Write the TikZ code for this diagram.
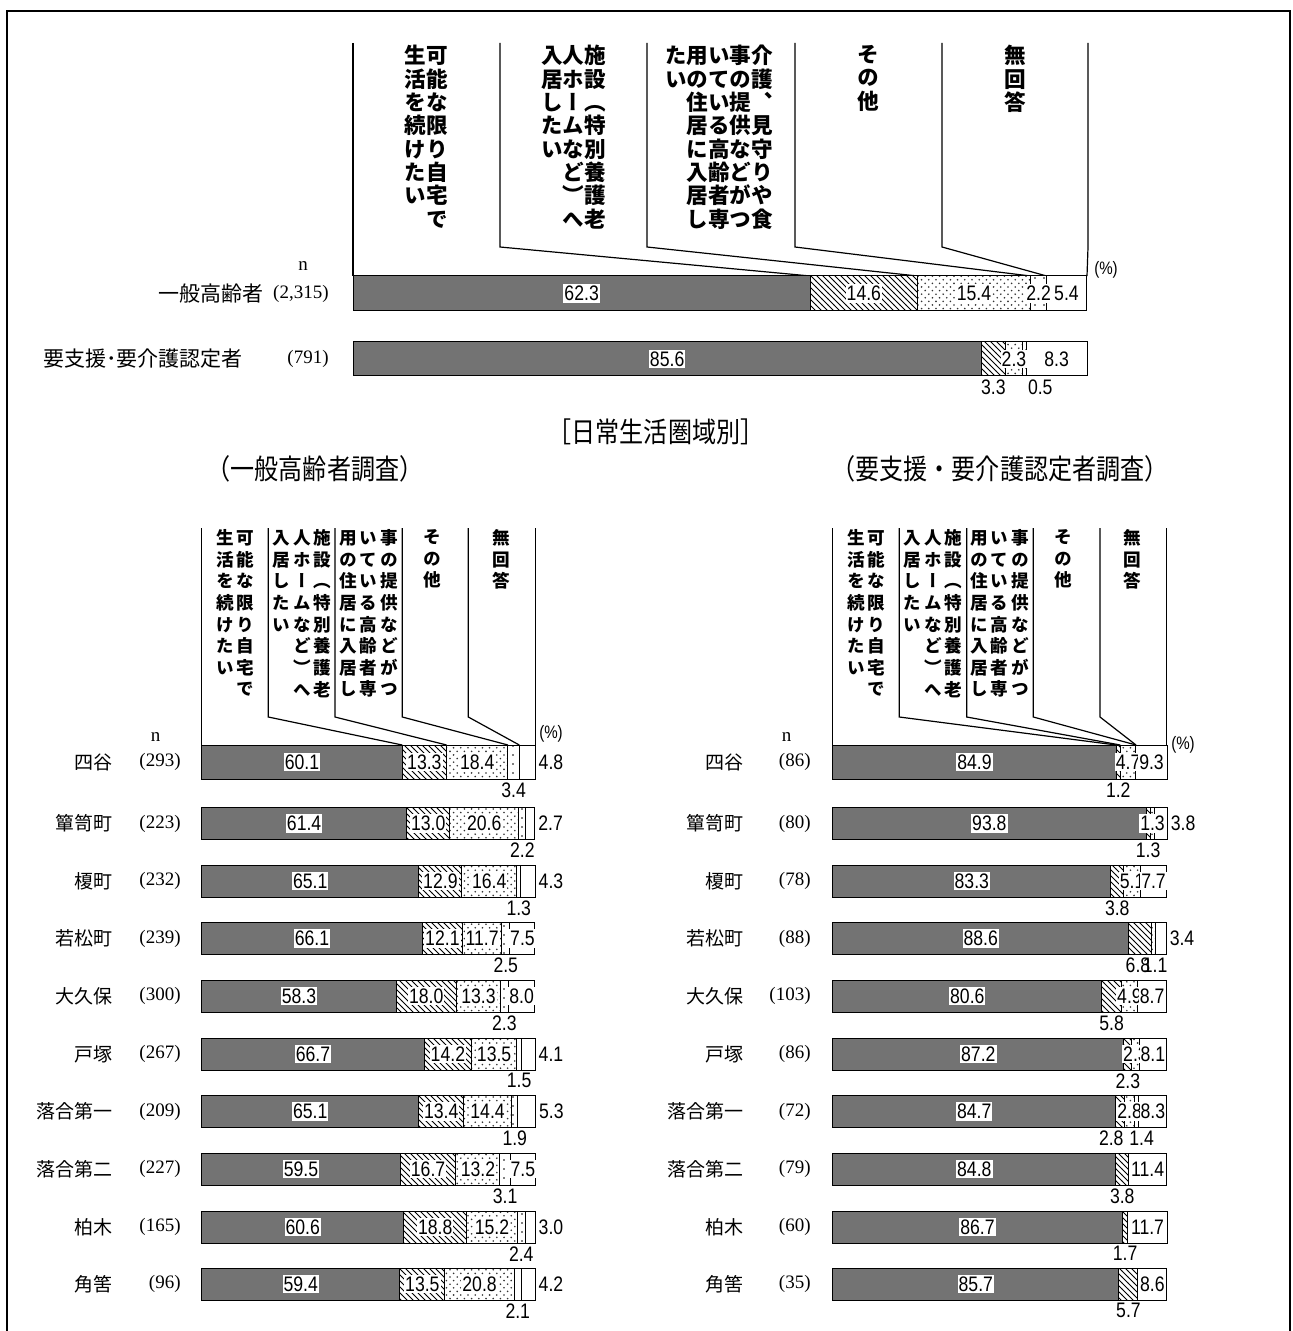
\documentclass[tikz,border=0pt]{standalone}
\usepackage{fontspec}
\setmainfont{Liberation Serif}
\newfontfamily\jp{Noto Sans CJK JP}
\newfontfamily\jpc{Noto Sans CJK JP}[FakeStretch=0.86]
\newfontfamily\jpv{Noto Sans CJK JP}[RawFeature=+vert]
\newfontfamily\numf{Liberation Sans}[FakeStretch=0.84]
\usetikzlibrary{patterns}

\pgfdeclarepatternformonly{sparse dots}{\pgfqpoint{-1pt}{-1pt}}{\pgfqpoint{1pt}{1pt}}{\pgfqpoint{4.5pt}{4.5pt}}%
  {\pgfpathcircle{\pgfqpoint{0pt}{0pt}}{.45pt}\pgfusepath{fill}}
\pgfdeclarepatternformonly{wide dots}{\pgfqpoint{-1pt}{-1pt}}{\pgfqpoint{4.5pt}{4.5pt}}{\pgfqpoint{3.6pt}{3.6pt}}%
  {\pgfpathcircle{\pgfqpoint{0pt}{0pt}}{.45pt}\pgfpathcircle{\pgfqpoint{1.8pt}{1.8pt}}{.45pt}\pgfusepath{fill}}

% vertical (tategaki) column of characters
\def\colw{1em}
\def\rowh{1.08em}
\def\vcolnext#1#2\vcolend{\hbox to \colw{\hss#1\hss}%
  \if\relax\detokenize{#2}\relax\else\vcolnext#2\vcolend\fi}
\newcommand\vcol[1]{\vtop{\baselineskip=\rowh\lineskiplimit=-\maxdimen\vcolnext#1\vcolend}}

\begin{document}
\begin{tikzpicture}[x=0.5pt, y=-0.5pt,
  hdline/.style={line width=0.6pt},
  seg/.style={draw=black, line width=0.5pt},
  seg1/.style={seg, fill=black!55},
  seg2/.style={seg, preaction={fill=white}, pattern=north west lines},
  seg3/.style={seg, preaction={fill=white}, pattern=wide dots, pattern color=black!80},
  seg4/.style={seg, preaction={fill=white}, pattern=sparse dots},
  seg5/.style={seg, fill=white},
  valin/.style={font=\numf\fontsize{10.5}{12}\selectfont, fill=white, inner xsep=0.5pt, inner ysep=1pt},
  valout/.style={font=\numf\fontsize{10.5}{12}\selectfont, inner sep=1.5pt},
  rowname/.style={anchor=east, inner sep=0, font=\jp\fontsize{9.5}{11}\selectfont},
  rown/.style={anchor=east, inner sep=0, font=\fontsize{9.5}{11}\selectfont},
  nlab/.style={inner sep=0, font=\fontsize{9.5}{11}\selectfont},
  unit/.style={inner sep=0, font=\numf\fontsize{9}{10}\selectfont},
  hd/.style={anchor=north, inner sep=0, font=\jpv\bfseries\fontsize{10.8}{13}\selectfont},
  hdsub/.style={anchor=north, inner sep=0, font=\jpv\bfseries\fontsize{8.8}{11}\selectfont},
  ttl/.style={inner sep=0, font=\jpc\fontsize{14}{16}\selectfont}]

  \useasboundingbox (0,0) rectangle (1292,1331);
  \draw[line width=1.25pt] (7,1340) -- (7,11) -- (1290,11) -- (1290,1340); %% frame

  % #1 prefix, #2 bar left, #3 px per %, #4 name x, #5 n x, #6 rows
  \newcommand\barrows[6]{%
    \foreach \yc/\hh/\nm/\nn/\segs [count=\rw] in {#6}{%
      \node[rowname] (#1name\rw) at (#4,\yc) {\nm};
      \node[rown] (#1n\rw) at (#5,\yc) {(\nn)};
      \foreach \v/\md/\dx [count=\k, remember=\xe as \xs (initially 0)] in \segs {%
        \pgfmathsetmacro\xe{\xs+\v}
        \draw[seg\k] ({#2+\xs*#3},\yc-\hh) rectangle ({#2+\xe*#3},\yc+\hh);
      }
      % values on top of all segments
      \foreach \v/\md/\dx [count=\k, remember=\xe as \xs (initially 0)] in \segs {%
        \pgfmathsetmacro\xe{\xs+\v}
        \pgfmathsetmacro\xa{#2+\xs*#3}
        \pgfmathsetmacro\xb{#2+\xe*#3}
        \if\md i\node[valin] (#1v\rw-\k) at ({(\xa+\xb)/2},\yc) {\v};\fi
        \if\md b\node[valout, anchor=north] (#1v\rw-\k) at ({(\xa+\xb)/2+\dx},\yc+\hh) {\v};\fi
        \if\md r\node[valout, anchor=west] (#1v\rw-\k) at (\xb,\yc) {\v};\fi
      }
    }
  }

  %% top chart: header
  \draw[hdline] (353,43) -- (353,276);
  \foreach \xc/\cum in {500/62.3, 647/76.9, 795/92.3, 942/94.5}
    \draw[hdline] (\xc,43) -- (\xc,247) -- ({353+\cum*7.34},276);
  \draw[hdline] (1088,43) -- (1088,247) -- (1087,276);
  \node[hd] (th1) at (426.5,45) {\vcol{生活を続けたい}\vcol{可能な限り自宅で}};
  \node[hd] (th2) at (573.5,45) {\vcol{入居したい}\vcol{人ホームなど）へ}\vcol{施設（特別養護老}};
  \node[hd] (th3) at (719,45) {\vcol{たい}\vcol{用の住居に入居し}\vcol{いている高齢者専}\vcol{事の提供などがつ}\vcol{介護、見守りや食}};
  \node[hd] (th4) at (868.5,45) {\vcol{その他}};
  \node[hd] (th5) at (1015,45) {\vcol{無回答}};
  \node[nlab] (tn) at (303,266) {n};
  \node[unit] (tpct) at (1106,270) {(\%)};

  \begin{scope}[rowname/.append style={font=\jp\fontsize{10.5}{12}\selectfont}, rown/.append style={font=\fontsize{9.5}{11}\selectfont}]
    \barrows{T}{353}{7.34}{264}{329}{%
      293.5/17.5/一般高齢者/{2,315}/{62.3/i/0,14.6/i/0,15.4/i/0,2.2/i/0,5.4/i/0},
      359/17/要支援･要介護認定者　/791/{85.6/i/0,3.3/b/0,2.3/i/0,0.5/b/16,8.3/i/0}}
  \end{scope}

  %% titles
  \node[ttl] (title) at (656,432) {［日常生活圏域別］};
  \node[ttl] (subl) at (315,469) {（一般高齢者調査）};
  \node[ttl] (subr) at (1000,469) {（要支援・要介護認定者調査）};

  %% lower charts: headers
  \foreach \px/\pre in {201.7/L, 832.7/R}{
    \def\colw{1.17em}\def\rowh{1.23em}
    \draw[hdline] (\px,528) -- (\px,745);
    \draw[hdline] (\px+333.6,528) -- (\px+333.6,745);
    \node[hdsub] (\pre h1) at (\px+33.4,529) {\vcol{生活を続けたい}\vcol{可能な限り自宅で}};
    \node[hdsub] (\pre h2) at (\px+100.1,529) {\vcol{入居したい}\vcol{人ホームなど）へ}\vcol{施設（特別養護老}};
    \node[hdsub] (\pre h3) at (\px+166.8,529) {\vcol{用の住居に入居し}\vcol{いている高齢者専}\vcol{事の提供などがつ}};
    \node[hdsub] (\pre h4) at (\px+231,529) {\vcol{その他}};
    \node[hdsub] (\pre h5) at (\px+300,529) {\vcol{無回答}};
    \node[nlab] (\pre n) at (\px-46,737) {n};
  }
  \foreach \xc/\cum in {268.3/60.1, 335/73.4, 402.3/91.8, 468.3/95.2}
    \draw[hdline] (\xc,528) -- (\xc,717) -- ({201.7+\cum*3.336},745);
  \foreach \xc/\cum in {899.3/84.9, 966.7/86.1, 1033.3/90.8, 1100/90.8}
    \draw[hdline] (\xc,528) -- (\xc,717) -- ({832.7+\cum*3.34},745);
  \node[unit] (lpct) at (551,734) {(\%)};
  \node[unit] (rpct) at (1183,745) {(\%)};

  %% lower-left: general elderly
  \barrows{L}{201.7}{3.336}{113}{181}{%
    762/17/四谷/293/{60.1/i/0,13.3/i/0,18.4/i/0,3.4/b/0,4.8/r/0},
    823.5/16/簞笥町/223/{61.4/i/0,13.0/i/0,20.6/i/0,2.2/b/0,2.7/r/0},
    881/16/榎町/232/{65.1/i/0,12.9/i/0,16.4/i/0,1.3/b/0,4.3/r/0},
    938.5/16/若松町/239/{66.1/i/0,12.1/i/0,11.7/i/0,2.5/b/0,7.5/i/0},
    996/16/大久保/300/{58.3/i/0,18.0/i/0,13.3/i/0,2.3/b/0,8.0/i/0},
    1054/16/戸塚/267/{66.7/i/0,14.2/i/0,13.5/i/0,1.5/b/0,4.1/r/0},
    1111.5/16/落合第一/209/{65.1/i/0,13.4/i/0,14.4/i/0,1.9/b/0,5.3/r/0},
    1169/16/落合第二/227/{59.5/i/0,16.7/i/0,13.2/i/0,3.1/b/0,7.5/i/0},
    1227/16/柏木/165/{60.6/i/0,18.8/i/0,15.2/i/0,2.4/b/0,3.0/r/0},
    1284/16/角筈/96/{59.4/i/0,13.5/i/0,20.8/i/0,2.1/b/0,4.2/r/0}}

  %% lower-right: certified
  \barrows{R}{832.7}{3.34}{743.5}{811}{%
    762/17/四谷/86/{84.9/i/0,1.2/b/0,4.7/i/0,0/n/0,9.3/i/0},
    823.5/16/簞笥町/80/{93.8/i/0,1.3/b/0,1.3/i/0,0/n/0,3.8/r/0},
    881/16/榎町/78/{83.3/i/0,3.8/b/0,5.1/i/0,0/n/0,7.7/i/0},
    938.5/16/若松町/88/{88.6/i/0,6.8/b/-2,1.1/b/2,0/n/0,3.4/r/0},
    996/16/大久保/103/{80.6/i/0,5.8/b/0,4.9/i/0,0/n/0,8.7/i/0},
    1054/16/戸塚/86/{87.2/i/0,2.3/b/0,2.3/i/0,0/n/0,8.1/i/0},
    1111.5/16/落合第一/72/{84.7/i/0,2.8/b/-9,2.8/i/0,1.4/b/5,8.3/i/0},
    1169/16/落合第二/79/{84.8/i/0,3.8/b/0,0/n/0,0/n/0,11.4/i/0},
    1227/16/柏木/60/{86.7/i/0,1.7/b/0,0/n/0,0/n/0,11.7/i/0},
    1284/16/角筈/35/{85.7/i/0,5.7/b/0,0/n/0,0/n/0,8.6/i/0}}

\end{tikzpicture}
\end{document}
